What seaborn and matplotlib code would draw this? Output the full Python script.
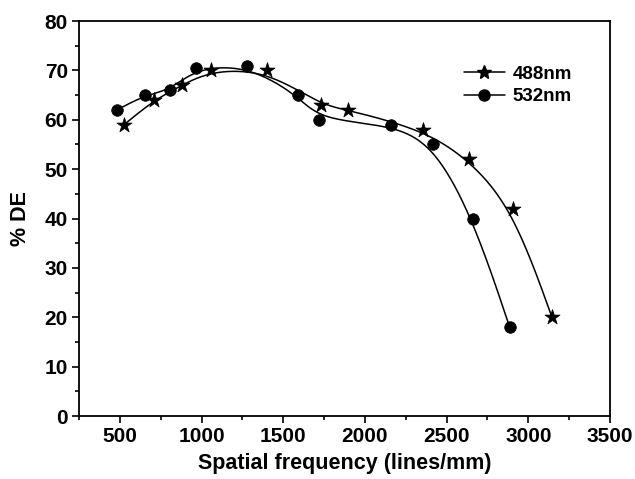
import numpy as np
import pandas as pd
import matplotlib
matplotlib.use("Agg")
import matplotlib.pyplot as plt
from matplotlib.lines import Line2D
from matplotlib.ticker import MultipleLocator
import seaborn as sns

# values
freq_488 = [525, 710, 880, 1060, 1400, 1730, 1895, 2355, 2635, 2905, 3145]
de_488 = [59, 64, 67, 70, 70, 63, 62, 58, 52, 42, 20]
freq_532 = [482, 654, 808, 967, 1281, 1589, 1718, 2160, 2419, 2663, 2886]
de_532 = [62, 65, 66, 70.5, 71, 65, 60, 59, 55, 40, 18]
series_names = ["488nm", "532nm"]


def bspline(xs, ys, n=40):
    # clamped uniform cubic B-spline, data points used as control points
    px = np.r_[[xs[0]] * 2, xs, [xs[-1]] * 2].astype(float)
    py = np.r_[[ys[0]] * 2, ys, [ys[-1]] * 2].astype(float)
    t = np.linspace(0, 1, n)
    b0 = (1 - t) ** 3 / 6
    b1 = (3 * t**3 - 6 * t**2 + 4) / 6
    b2 = (-3 * t**3 + 3 * t**2 + 3 * t + 1) / 6
    b3 = t**3 / 6
    cx, cy = [], []
    for i in range(len(px) - 3):
        cx.append(b0 * px[i] + b1 * px[i + 1] + b2 * px[i + 2] + b3 * px[i + 3])
        cy.append(b0 * py[i] + b1 * py[i + 1] + b2 * py[i + 2] + b3 * py[i + 3])
    return np.concatenate(cx), np.concatenate(cy)


sns.set_style("ticks")
plt.rcParams['font.family'] = ['Liberation Sans', 'DejaVu Sans']
plt.rcParams['font.weight'] = 'bold'
for key in ['text.color', 'axes.labelcolor', 'xtick.color', 'ytick.color', 'axes.edgecolor']:
    plt.rcParams[key] = 'black'

fig = plt.figure(figsize=(6.35, 4.79), dpi=100)
ax = fig.add_axes([0.1244, 0.1315, 0.8362, 0.8245])

markers = {"488nm": "*", "532nm": "o"}
sizes = {"488nm": 130, "532nm": 70}
for name, xs, ys in [("488nm", freq_488, de_488), ("532nm", freq_532, de_532)]:
    cx, cy = bspline(xs, ys)
    curve = pd.DataFrame({"x": cx, "y": cy})
    sns.lineplot(data=curve, x="x", y="y", sort=False, estimator=None,
                 color="black", lw=1.1, ax=ax)
    pts = pd.DataFrame({"x": xs, "y": ys})
    sns.scatterplot(data=pts, x="x", y="y", marker=markers[name], s=sizes[name],
                    color="black", edgecolor="black", linewidth=0.5, ax=ax, zorder=3)

ax.set_xlim(250, 3500)
ax.set_ylim(0, 80)
ax.xaxis.set_major_locator(MultipleLocator(500))
ax.xaxis.set_minor_locator(MultipleLocator(250))
ax.yaxis.set_major_locator(MultipleLocator(10))
ax.yaxis.set_minor_locator(MultipleLocator(5))
ax.tick_params(which='major', direction='out', length=5, width=1.2, labelsize=15, pad=3)
ax.tick_params(which='minor', direction='out', length=3, width=1.2)
for lab in ax.get_xticklabels() + ax.get_yticklabels():
    lab.set_fontweight('bold')
for sp in ax.spines.values():
    sp.set_linewidth(1.3)
    sp.set_color('black')

ax.set_xlabel("Spatial frequency (lines/mm)", fontsize=15.5, fontweight='bold', labelpad=5)
ax.set_ylabel("% DE", fontsize=15.5, fontweight='bold', labelpad=10)

handles = [Line2D([0], [0], color='black', lw=1.1, marker=markers[n],
                  markersize=10 if n == "488nm" else 8) for n in series_names]
ax.legend(handles, series_names, loc='upper right', bbox_to_anchor=(0.96, 0.93),
          frameon=False, handlelength=2.2, handletextpad=0.4,
          labelspacing=0.3, prop={'weight': 'bold', 'size': 13.5})

fig.savefig("out.png", dpi=100, facecolor="white")
